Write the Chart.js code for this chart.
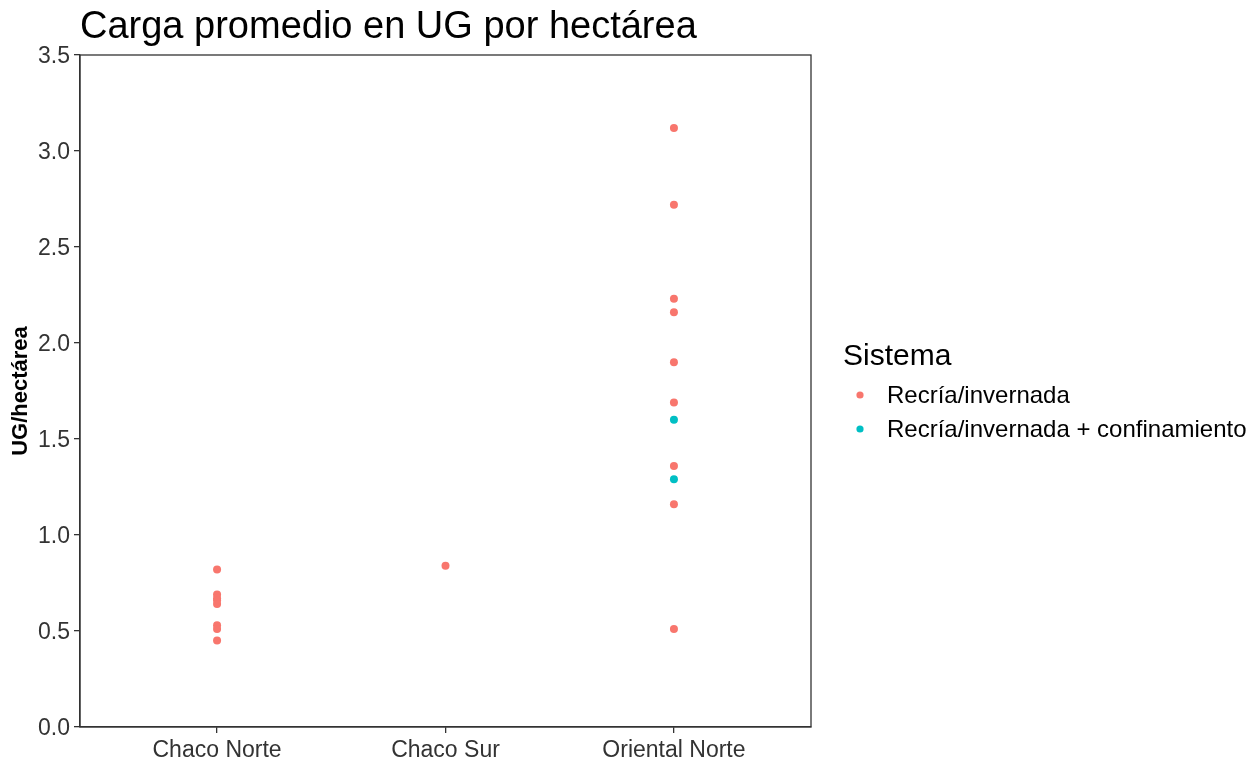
<!DOCTYPE html>
<html lang="es">
<head>
  <meta charset="UTF-8">
  <title>Carga promedio en UG por hectárea</title>
  <script src="https://cdn.jsdelivr.net/npm/chart.js"></script>
  <style>
    body { margin: 0; background: #fff; }
    #wrap { width: 1259px; height: 763px; }
  </style>
</head>
<body>
  <div id="wrap"><canvas id="chart" width="1259" height="763"></canvas></div>

  <script>
    const chartTitle = 'Carga promedio en UG por hectárea';
    const yTitle = 'UG/hectárea';
    const legendTitle = 'Sistema';
    const categories = ['Chaco Norte', 'Chaco Sur', 'Oriental Norte'];
    const seriesNames = ['Recría/invernada', 'Recría/invernada + confinamiento'];
    const seriesColors = ['#F8766D', '#00BFC4'];

    // values, one array per region
    const recriaChacoNorte = [0.82, 0.69, 0.67, 0.66, 0.64, 0.53, 0.51, 0.45];
    const recriaChacoSur = [0.84];
    const recriaOrientalNorte = [3.12, 2.72, 2.23, 2.16, 1.90, 1.69, 1.36, 1.16, 0.51];
    const confinamientoOrientalNorte = [1.60, 1.29];

    const yTicks = [0, 0.5, 1, 1.5, 2, 2.5, 3, 3.5];

    function toPoints(cat, values) {
      const x = categories.indexOf(cat) + 1;
      return values.map(v => ({ x: x, y: v }));
    }

    const recriaPoints = [
      ...toPoints('Chaco Norte', recriaChacoNorte),
      ...toPoints('Chaco Sur', recriaChacoSur),
      ...toPoints('Oriental Norte', recriaOrientalNorte)
    ];
    const confPoints = toPoints('Oriental Norte', confinamientoOrientalNorte);

    const font = '"Liberation Sans", Arial, sans-serif';

    // title, legend and panel border drawn by hand (ggplot look)
    const extras = {
      id: 'extras',
      afterDraw(chart) {
        const c = chart.ctx;
        const a = chart.chartArea;
        c.save();
        c.strokeStyle = '#333';
        c.lineWidth = 1.3;
        c.strokeRect(a.left, a.top, a.right - a.left, a.bottom - a.top);

        c.fillStyle = '#000';
        c.textBaseline = 'alphabetic';
        c.textAlign = 'left';
        c.font = '38px ' + font;
        c.fillText(chartTitle, 80, 38);

        c.font = '30px ' + font;
        c.fillText(legendTitle, 843, 365);

        c.font = '24px ' + font;
        chart.data.datasets.forEach((ds, i) => {
          const y = 395 + i * 34;
          c.fillStyle = ds.backgroundColor;
          c.beginPath();
          c.arc(860, y, 3.6, 0, Math.PI * 2);
          c.fill();
          c.fillStyle = '#000';
          c.fillText(ds.label, 887, y + 8);
        });
        c.restore();
      }
    };

    new Chart(document.getElementById('chart'), {
      type: 'scatter',
      data: {
        datasets: [
          { label: seriesNames[0], data: recriaPoints, backgroundColor: seriesColors[0], borderWidth: 0, pointRadius: 4 },
          { label: seriesNames[1], data: confPoints, backgroundColor: seriesColors[1], borderWidth: 0, pointRadius: 4 }
        ]
      },
      options: {
        responsive: false,
        animation: false,
        layout: { padding: { top: 55, right: 448, left: 0, bottom: 0 } },
        plugins: {
          legend: { display: false },
          tooltip: { enabled: false },
          title: { display: false }
        },
        scales: {
          x: {
            type: 'linear',
            min: 0.4,
            max: 3.6,
            afterBuildTicks: s => { s.ticks = categories.map((_, i) => ({ value: i + 1 })); },
            afterFit: s => { s.height = 36; },
            ticks: {
              autoSkip: false,
              maxRotation: 0,
              padding: 4,
              color: '#333',
              font: { family: font, size: 23 },
              callback: v => categories[v - 1]
            },
            grid: { drawOnChartArea: false, color: '#333', lineWidth: 1.3, tickLength: 6 },
            border: { display: true, color: '#333', width: 1.3 }
          },
          y: {
            min: 0,
            max: 3.5,
            afterBuildTicks: s => { s.ticks = yTicks.map(v => ({ value: v })); },
            afterFit: s => { s.width = 80; },
            ticks: {
              autoSkip: false,
              padding: 4,
              labelOffset: 2,
              color: '#333',
              font: { family: font, size: 23 },
              callback: v => Number(v).toFixed(1)
            },
            title: {
              display: true,
              text: yTitle,
              color: '#000',
              padding: { top: 8, bottom: 0 },
              font: { family: font, size: 22, weight: 'bold' }
            },
            grid: { drawOnChartArea: false, color: '#333', lineWidth: 1.3, tickLength: 6 },
            border: { display: true, color: '#333', width: 1.3 }
          }
        }
      },
      plugins: [extras]
    });
  </script>
</body>
</html>
